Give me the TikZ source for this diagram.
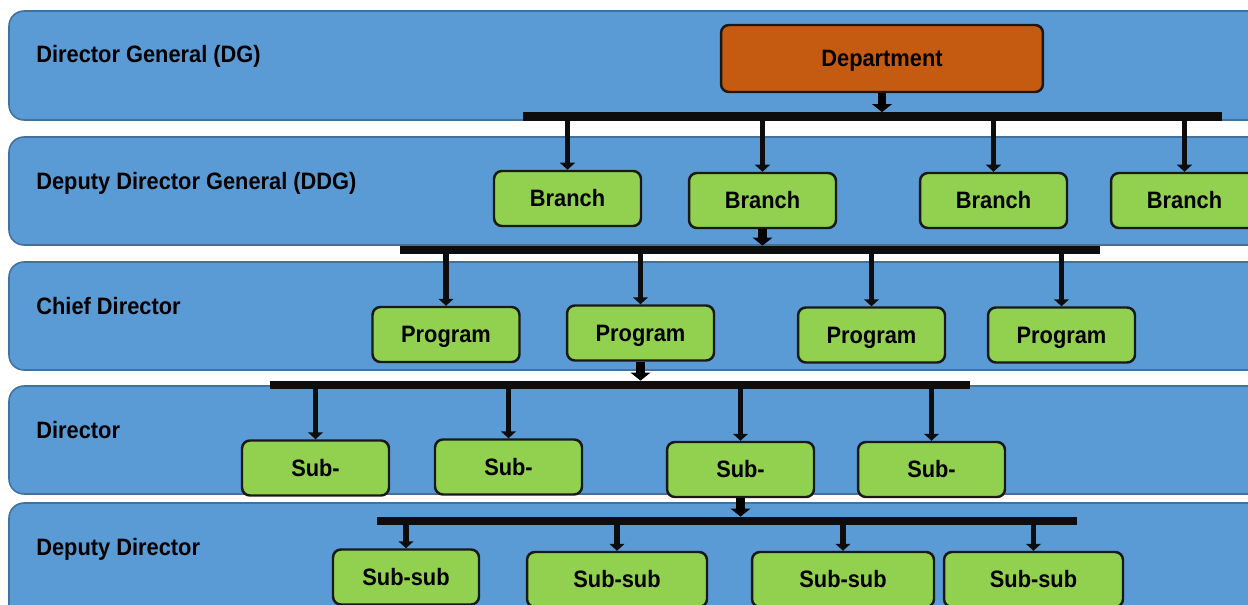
\documentclass[tikz,border=0pt]{standalone}
\usepackage{fontspec}
\setmainfont{Liberation Sans}[FakeStretch=0.92]
\usetikzlibrary{arrows.meta}
\definecolor{bandblue}{HTML}{5B9BD5}
\definecolor{bandedge}{HTML}{41719C}
\definecolor{boxgreen}{HTML}{92D050}
\definecolor{deptorange}{HTML}{C55A11}
\tikzset{
band/.style={fill=bandblue, draw=bandedge, line width=0.9pt, rounded corners=0.3cm},
rank/.style={anchor=west, inner sep=0pt, font=\fontsize{13.5}{16}\selectfont\bfseries},
unit/.style={draw=black!90, line width=1.4pt, fill=boxgreen, rounded corners=4.5pt,
  minimum width=2.94cm, minimum height=1.1cm, inner sep=0pt,
  text height=1.05em, text depth=0.1em,
  font=\fontsize{13.5}{16}\selectfont\bfseries},
bus/.style={line width=5pt, black!95},
drop/.style={line width=3.4pt, black!95, -{Triangle[width=8.5pt,length=4pt]}},
rise/.style={line width=5pt, black, -{Triangle[width=11pt,length=4.5pt]}, shorten >=2.5pt}
}
\begin{document}
\begin{tikzpicture}[x=0.02cm,y=-0.02cm]
\useasboundingbox (0,0) rectangle (1248,605);
\clip (0,0) rectangle (1248,605);
% levels
\draw[band] (9,11) rectangle (1275,120);
\draw[band] (9,137) rectangle (1275,245);
\draw[band] (9,262) rectangle (1275,370);
\draw[band] (9,386) rectangle (1275,494);
\draw[band] (9,503) rectangle (1275,650);
\node[rank] (dg) at (36,56) {Director General (DG)};
\node[rank] (ddg) at (36,183) {Deputy Director General (DDG)};
\node[rank] (cd) at (36,306) {Chief Director};
\node[rank] (dir) at (36,430) {Director};
\node[rank] (dd) at (36,549) {Deputy Director};

% boxes
\node[unit, fill=deptorange, minimum width=6.44cm, minimum height=1.34cm] (dept) at (882,58.5) {Department};
\foreach \n/\x/\y in {1/567.5/198.5, 2/762.5/200.5, 3/993.5/200.5, 4/1184.5/200.5}{
\node[unit] (br\n) at (\x,\y) {Branch};
}
\foreach \n/\x/\y in {1/446/334.5, 2/640.5/333, 3/871.5/335, 4/1061.5/335}{
\node[unit] (pr\n) at (\x,\y) {Program};
}
\foreach \n/\x/\y in {1/315.5/468, 2/508.5/467, 3/740.5/469.5, 4/931.5/469.5}{
\node[unit] (sb\n) at (\x,\y) {Sub-};
}
\foreach \n/\x/\y/\w in {1/406/577/2.92, 2/617/579.5/3.6, 3/843/579.5/3.64, 4/1033.5/579.5/3.58}{
\node[unit, minimum width=\w cm] (ss\n) at (\x,\y) {Sub-sub};
}

% buses
\coordinate (bus1w) at (523,116.5);
\coordinate (bus1e) at (1222,116.5);
\coordinate (bus2w) at (400,250);
\coordinate (bus2e) at (1100,250);
\coordinate (bus3w) at (270,385);
\coordinate (bus3e) at (970,385);
\coordinate (bus4w) at (377,521);
\coordinate (bus4e) at (1077,521);
\foreach \b in {1,...,4}{
\draw[bus] (bus\b w) -- (bus\b e);
}

% arrows
\draw[rise] (dept.south) -- (dept.south |- bus1w);
\draw[rise] (br2.south) -- (br2.south |- bus2w);
\draw[rise] (pr2.south) -- (pr2.south |- bus3w);
\draw[rise] (sb3.south) -- (sb3.south |- bus4w);
\foreach \n in {1,...,4}{
\draw[drop] (br\n.north |- bus1w) -- (br\n.north);
\draw[drop] (pr\n.north |- bus2w) -- (pr\n.north);
\draw[drop] (sb\n.north |- bus3w) -- (sb\n.north);
\draw[drop] (ss\n.north |- bus4w) -- (ss\n.north);
}
\end{tikzpicture}
\end{document}
